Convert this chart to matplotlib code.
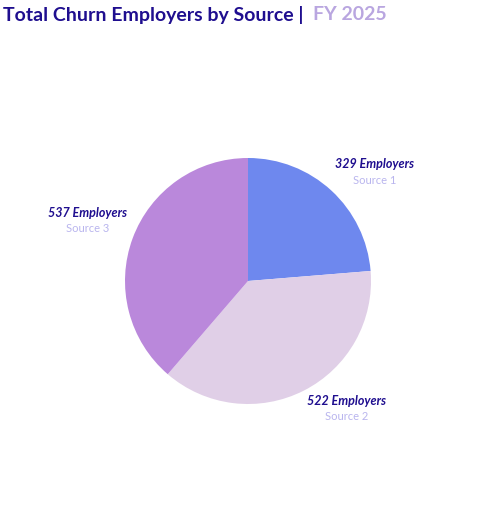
import matplotlib
matplotlib.use("Agg")
import matplotlib.pyplot as plt

sources = ["Source 1", "Source 2", "Source 3"]
values = [329, 522, 537]
colors = ["#6E88EE", "#E0CFE7", "#BA88DB"]
label_pos = {"Source 1": (375, 164, 180), "Source 2": (347, 401, 416), "Source 3": (88, 213, 229)}

fig = plt.figure(figsize=(4.92, 5.24), dpi=100)
ax = fig.add_axes([0.0, 0.0, 1.0, 1.0])
ax.set_xlim(0, 492); ax.set_ylim(524, 0); ax.axis("off")
pax = fig.add_axes([(248-123)/492, 1-(281+123)/524, 246/492, 246/524])
pax.pie(values, colors=colors, startangle=90, counterclock=False, radius=1,
        wedgeprops=dict(linewidth=0))
pax.set_xlim(-1, 1); pax.set_ylim(-1, 1)
pax.set_aspect("equal")

fig.text(3/492, 1-15/524, "Total Churn Employers by Source |", fontsize=14, fontweight="bold",
         color="#1F0E8F", family="Lato", va="center")
fig.text(313/492, 1-15/524, "FY 2025", fontsize=14, fontweight="bold",
         color="#B9A6E0", family="Lato", va="center")

for v, s in zip(values, sources):
    x, y1, y2 = label_pos[s]
    ax.text(x, y1, f"{v} Employers", fontsize=9, fontstyle="italic", fontweight="bold",
            color="#1F0E8F", ha="center", va="center", family="Lato")
    ax.text(x, y2, s, fontsize=8, color="#B9B5EE", ha="center", va="center", family="Lato")

fig.savefig("out.png", dpi=100)
